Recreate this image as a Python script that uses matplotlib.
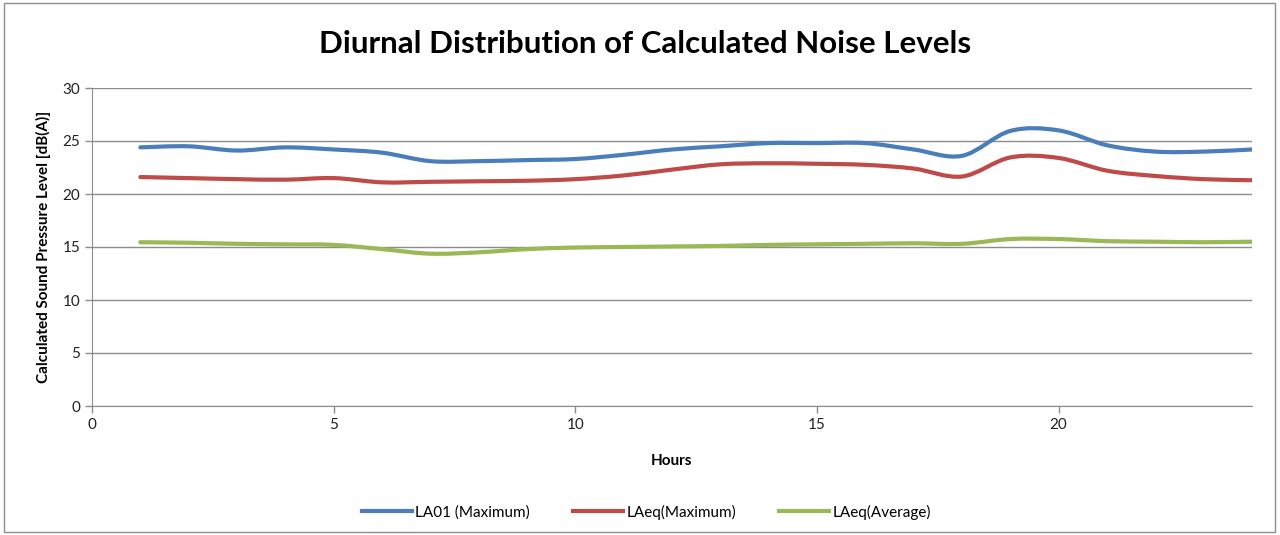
import numpy as np
import matplotlib
matplotlib.use("Agg")
import matplotlib.pyplot as plt
from matplotlib.path import Path
from matplotlib.patches import PathPatch, Rectangle
from matplotlib.lines import Line2D

plt.rcParams['font.family'] = ['Lato', 'DejaVu Sans']

# hourly values
hours = list(range(1, 25))
la01_max = [24.4, 24.5, 24.1, 24.4, 24.2, 23.9, 23.1, 23.1, 23.2, 23.3, 23.7, 24.2,
            24.5, 24.8, 24.8, 24.8, 24.2, 23.6, 25.95, 26.0, 24.6, 24.0, 24.0, 24.2]
laeq_max = [21.6, 21.5, 21.4, 21.35, 21.5, 21.1, 21.15, 21.2, 21.25, 21.4, 21.75, 22.3,
            22.8, 22.9, 22.85, 22.75, 22.4, 21.65, 23.45, 23.4, 22.2, 21.7, 21.4, 21.3]
laeq_avg = [15.45, 15.4, 15.3, 15.25, 15.2, 14.8, 14.37, 14.5, 14.8, 14.95, 15.0, 15.05,
            15.1, 15.2, 15.25, 15.3, 15.35, 15.3, 15.75, 15.75, 15.55, 15.5, 15.45, 15.5]

series = [("LA01 (Maximum)", la01_max, "#4A7EBB"),
          ("LAeq(Maximum)", laeq_max, "#BE4B48"),
          ("LAeq(Average)", laeq_avg, "#98B954")]


def smooth_path(x, y, t=1.0 / 6):
    # Excel-style smoothed line: Catmull-Rom converted to cubic Bezier segments
    x = np.asarray(x, float)
    y = np.asarray(y, float)
    verts = [(x[0], y[0])]
    codes = [Path.MOVETO]
    n = len(x)
    for i in range(n - 1):
        p0 = i - 1 if i > 0 else i
        p3 = i + 2 if i + 2 < n else i + 1
        c1 = (x[i] + (x[i + 1] - x[p0]) * t, y[i] + (y[i + 1] - y[p0]) * t)
        c2 = (x[i + 1] - (x[p3] - x[i]) * t, y[i + 1] - (y[p3] - y[i]) * t)
        verts += [c1, c2, (x[i + 1], y[i + 1])]
        codes += [Path.CURVE4] * 3
    return Path(verts, codes)


fig = plt.figure(figsize=(12.8, 5.35), dpi=100)
fig.patches.append(Rectangle((0.003, 0.005), 0.993, 0.99, transform=fig.transFigure,
                             fill=False, edgecolor="#8c8c8c", linewidth=1))

ax = fig.add_axes([92 / 1280, 1 - 406 / 535, (1252 - 92) / 1280, (406 - 88) / 535])

for name, vals, col in series:
    ax.add_patch(PathPatch(smooth_path(hours, vals), facecolor="none", edgecolor=col,
                           linewidth=3, capstyle="round", joinstyle="round"))

ax.set_xlim(0, 24)
ax.set_ylim(0, 30)
ax.set_xticks(range(0, 25, 5))
ax.set_yticks(range(0, 31, 5))
ax.grid(axis="y", color="#8c8c8c", linewidth=1)
ax.set_axisbelow(True)
for s in ["top", "right"]:
    ax.spines[s].set_visible(False)
for s in ["left", "bottom"]:
    ax.spines[s].set_color("#8c8c8c")
ax.tick_params(axis="both", colors="#8c8c8c", length=5, width=1, labelsize=11,
               labelcolor="#222222", direction="out")

ax.set_xlabel("Hours", fontsize=11, fontweight="bold", labelpad=16)
ax.set_ylabel("Calculated Sound Pressure Level [dB(A)]", fontsize=11, fontweight="bold",
              labelpad=8)
fig.suptitle("Diurnal Distribution of Calculated Noise Levels", fontsize=22.5,
             fontweight="bold", x=0.504, y=1 - 44 / 535, va="center")

handles = [Line2D([], [], color=c, linewidth=3) for _, _, c in series]
fig.legend(handles, [n for n, _, _ in series], loc="center", ncol=3,
           bbox_to_anchor=(0.505, 0.043), frameon=False, fontsize=11,
           handlelength=3.3, handletextpad=0.2, columnspacing=2.8)

fig.savefig("out.png", dpi=100)
